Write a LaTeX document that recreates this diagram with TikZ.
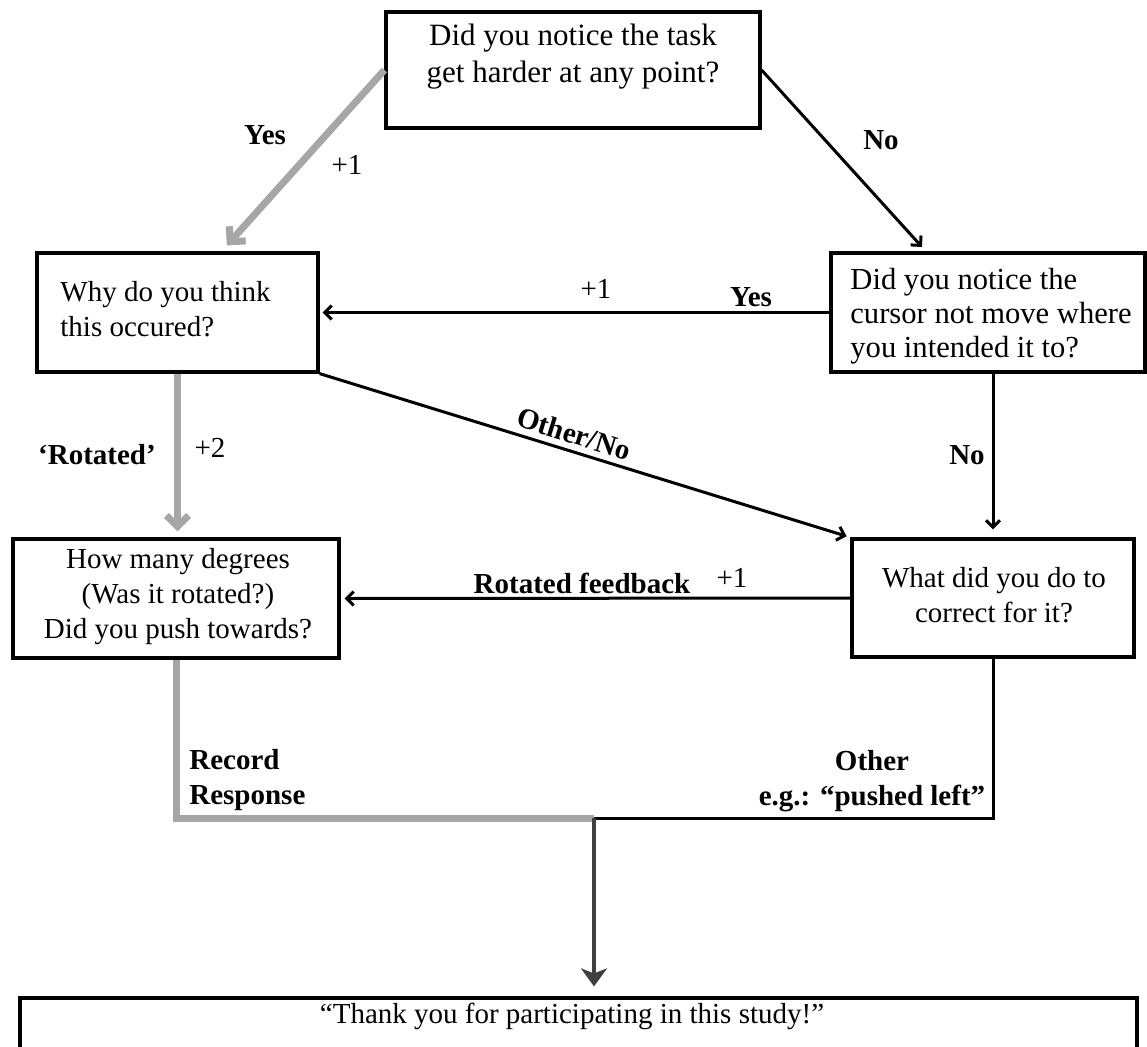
\documentclass[tikz,border=0pt]{standalone}
\usepackage{fontspec}
\setmainfont{Liberation Serif}
\usetikzlibrary{arrows.meta,calc}
\definecolor{arrgray}{RGB}{166,166,166}
\definecolor{darkline}{RGB}{64,64,64}
\begin{document}
\begin{tikzpicture}[x=0.5pt,y=-0.5pt,
  box/.style={draw=black,line width=1.6pt,rectangle,inner sep=0pt,fill=white},
  qtext/.style={font=\fontsize{14.5}{17.5}\selectfont,align=center,inner sep=0pt},
  qbig/.style={font=\fontsize{15.5}{18.5}\selectfont,align=center,inner sep=0pt},
  lbl/.style={font=\fontsize{14.5}{17.5}\selectfont\bfseries,inner sep=1pt},
  num/.style={font=\fontsize{14.5}{17.5}\selectfont,inner sep=1pt},
  blackarr/.style={draw=black,line width=1.5pt,-{Straight Barb[length=3.5pt,width=7pt]}},
  blackline/.style={draw=black,line width=1.5pt},
  grayarr/.style={draw=arrgray,line width=3.5pt,-{Straight Barb[length=5.5pt,width=11pt]}},
  grayline/.style={draw=arrgray,line width=3.5pt},
  darkarr/.style={draw=darkline,line width=1.8pt,-{Stealth[length=9pt,width=13pt,inset=2.5pt]}}
]
\useasboundingbox (0,0) rectangle (1147,1046);
\clip (0,0) rectangle (1147,1046);
\fill[white] (0,0) rectangle (1147,1046);

% boxes
\node[box,minimum width=187pt,minimum height=58pt] (b1) at (573,70) {};
\node[box,minimum width=140.5pt,minimum height=59.5pt] (b2) at (177.5,312.5) {};
\node[box,minimum width=157pt,minimum height=59.5pt] (b3) at (988,312.5) {};
\node[box,minimum width=141pt,minimum height=59pt] (b4) at (993,598) {};
\node[box,minimum width=163pt,minimum height=59.5pt] (b5) at (176,598.5) {};
\node[box,minimum width=558.5pt,minimum height=51pt] (bot) at (578.5,1049) {};

% box texts
\node[qbig] (b1t) at (573,57) {Did you notice the task\\get harder at any point?};
\node[qtext,anchor=west,align=left] (b2t) at (60,309) {Why do you think\\this occured?};
\node[qbig,anchor=west,align=left,font=\fontsize{15.3}{17}\selectfont] (b3t) at (850,316) {Did you notice the\\cursor not move where\\you intended it to?};
\node[qtext] (b4t) at (994,595) {What did you do to\\correct for it?};
\node[qtext] (b5t) at (178,597) {How many degrees\\(Was it rotated?)\\Did you push towards?};
\node[qtext] (bott) at (572,1016) {“Thank you for participating in this study!”};

% connectors
\draw[grayarr,shorten >=4pt] (b1.west) -- ([xshift=22pt]b2.north);
\draw[blackarr,shorten >=3pt] (b1.east) -- ([xshift=-31pt]b3.north);
\draw[blackarr,shorten >=1.5pt] (b3.west) -- (b2.east);
\draw[grayarr,shorten >=3pt] (b2.south) -- (b2.south |- b5.north);
\draw[blackarr,shorten >=2pt] (b2.south east) -- node[lbl,pos=0.47,sloped,above,inner sep=3pt] (onl) {Other/No} (b4.north west);
\draw[blackarr,shorten >=4pt] (b3.south -| b4.north) -- (b4.north);
\draw[blackarr,shorten >=2pt] (b4.west) -- (b5.east);

\coordinate (jn) at (594,818);
\draw[grayline] (b5.south) |- (jn);
\draw[blackline] (b4.south) |- (jn);
\draw[darkarr,shorten >=5pt] (jn) -- (jn |- bot.north);

% labels
\node[lbl] (yesL) at (265,135) {Yes};
\node[num] (p1a) at (347,165) {+1};
\node[lbl] (noL) at (881,140) {No};
\node[num] (p1b) at (596,289) {+1};
\node[lbl] (yesR) at (751,297) {Yes};
\node[lbl] (rotL) at (97,455) {‘Rotated’};
\node[num] (p2) at (210,448) {+2};
\node[lbl] (noV) at (967,455) {No};
\node[lbl] (rf) at (582,583) {Rotated feedback};
\node[num] (p1c) at (732,578) {+1};
\node[lbl,anchor=west,align=left] (rec) at (187,780) {Record\\Response};
\node[lbl,align=center] (oth) at (872,781) {Other\\e.g.: “pushed left”};
\end{tikzpicture}
\end{document}
